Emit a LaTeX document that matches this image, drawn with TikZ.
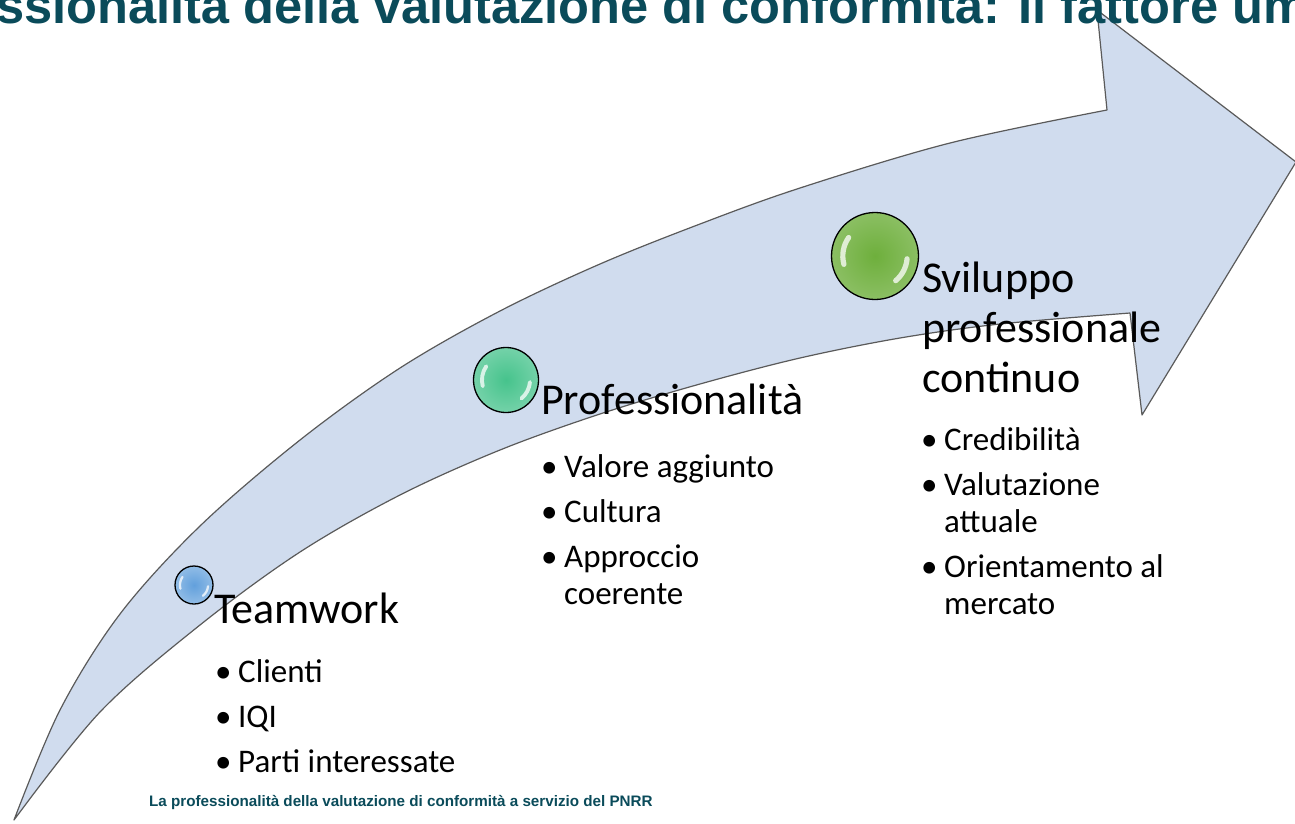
\documentclass[tikz,border=0pt]{standalone}
\usepackage{fontspec}
\setmainfont{Carlito}
\newfontfamily\titlefont{Liberation Sans}
\usetikzlibrary{calc}
\definecolor{arrowfill}{HTML}{D0DCEE}
\definecolor{arrowline}{HTML}{5A5A5A}
\definecolor{titleteal}{HTML}{0A4B5A}
\definecolor{ballblue}{HTML}{62A0DC}
\definecolor{ballteal}{HTML}{46C38C}
\definecolor{ballgreen}{HTML}{6EAF3C}
\newcommand\bul{\makebox[23pt][l]{•}}
\newcommand\glossy[2]{%
  \draw[white, opacity=.75, line width=#2*0.12, line cap=round]
    ($(#1.center)+(165:#2*0.74)$) arc[start angle=165, end angle=215, radius=#2*0.74];
  \draw[white, opacity=.75, line width=#2*0.12, line cap=round]
    ($(#1.center)+(5:#2*0.74)$) arc[start angle=5, end angle=50, radius=#2*0.74];
}
\begin{document}
\begin{tikzpicture}[x=1pt,y=-1pt,
  bigtext/.style={font=\fontsize{44}{50}\selectfont, inner sep=0, anchor=base west, align=left},
  bullettext/.style={font=\fontsize{33}{37}\selectfont, inner sep=0, anchor=base west, align=left},
  ball/.style={circle, draw=black, line width=1.3pt, inner sep=0, minimum size=#1},
  arrowshape/.style={fill=arrowfill, draw=arrowline, line width=1.2pt, line join=round},
  titletext/.style={font=\titlefont\bfseries\fontsize{50.6}{55}\selectfont, text=titleteal, inner sep=0, anchor=base west},
  foottext/.style={font=\titlefont\bfseries\fontsize{15.2}{18}\selectfont, text=titleteal, inner sep=0, anchor=base west}
]
\path[use as bounding box] (0,0) rectangle (1295,823);
\clip (0,0) rectangle (1295,823);

% the curved arrow
\draw[arrowshape]
  plot[smooth, tension=0.55] coordinates {(14,820) (60,710) (120,614) (200,526) (300,440) (400,368) (500,311) (600,264) (700,224) (800,188) (950,143) (1107,110)}
  -- (1097,10) -- (1296,162) -- (1142,415)
  -- plot[smooth, tension=0.55] coordinates {(1130,313) (1000,324) (900,338) (800,358) (700,384) (600,414) (500,450) (400,495) (300,552) (200,625) (100,712) (14,820)}
  -- cycle;

% title (cut off by the page edges) and footer
\node[titletext] (title) at (-4,23) {\llap{Profe}ssionalità della valutazione di conformità: Il fattore umano};
\node[foottext] (footer) at (149,806) {La professionalità della valutazione di conformità a servizio del PNRR};

% balls
\node[ball=38pt, shade, inner color=ballblue, outer color=ballblue!70!white] (b1) at (194,585) {};
\node[ball=65pt, shade, inner color=ballteal, outer color=ballteal!75!white] (b2) at (506,380) {};
\node[ball=87pt, shade, inner color=ballgreen, outer color=ballgreen!80!white] (b3) at (875,256) {};
\glossy{b1}{19}
\glossy{b2}{32.5}
\glossy{b3}{43.5}

% stage titles (base anchor of a multi-line node = last line)
\node[bigtext] (t1) at (214,623) {Teamwork};
\node[bigtext] (t2) at (541,414) {Professionalità};
\node[bigtext] (t3) at (922,392) {Sviluppo\\professionale\\continuo};

% bullet lists
\node[bullettext] (l1) at (215,772) {\bul Clienti\\[8pt]\bul IQI\\[8pt]\bul Parti interessate};
\node[bullettext] (l2) at (541,604) {\bul Valore aggiunto\\[8pt]\bul Cultura\\[8pt]\bul Approccio\\\hspace*{23pt}coerente};
\node[bullettext] (l3) at (921,614) {\bul Credibilità\\[8pt]\bul Valutazione\\\hspace*{23pt}attuale\\[8pt]\bul Orientamento al\\\hspace*{23pt}mercato};
\end{tikzpicture}
\end{document}
